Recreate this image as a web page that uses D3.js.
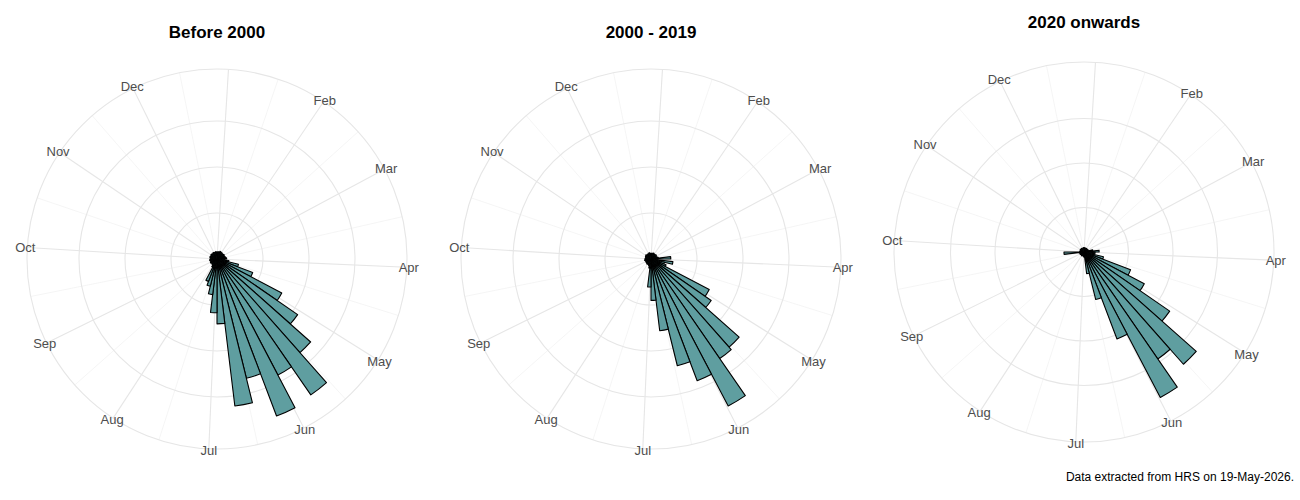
<!DOCTYPE html>
<html><head><meta charset="utf-8">
<script src="https://cdn.jsdelivr.net/npm/d3@7"></script>
<style>body{margin:0;background:#fff;font-family:"Liberation Sans",Arial,sans-serif}</style>
</head><body><svg id="c" width="1300" height="500"></svg>
<script>
const months = ["Jan","Feb","Mar","Apr","May","Jun","Jul","Aug","Sep","Oct","Nov","Dec"];
const monthStartDay = [0,31,59,90,120,151,181,212,243,273,304,334];
const panelTitles = ["Before 2000","2000 - 2019","2020 onwards"];
const weeks = d3.range(1,53);
// weekly counts (week 1..52)
const valuesBefore2000 = [1.5,1.6,1.4,1.8,1.5,1.7,1.6,1.5,1.8,1.6,1.7,1.9,2.1,1.7,2.6,4.8,8.3,15.9,21.3,27.2,35.9,28.5,36.5,26.7,32.2,14.1,11.7,7.8,6.1,5.2,2.0,1.6,1.5,1.4,1.6,1.5,1.3,1.6,1.5,1.4,1.5,1.6,1.4,1.5,1.6,1.5,1.4,1.6,1.5,1.4,1.6,1.5];
const values2000to2019 = [1.2,1.3,1.1,1.4,1.2,1.3,1.2,1.4,1.3,1.2,1.4,1.6,4.3,1.5,4.8,3.0,3.5,14.3,15.9,25.6,26.3,36.1,28.3,23.9,15.7,9.0,6.1,2.0,1.5,1.3,1.2,1.4,1.2,1.3,1.1,1.2,1.3,1.4,1.2,1.3,1.1,1.2,1.3,1.2,1.4,1.1,1.2,1.3,1.2,1.4,1.3,1.2];
const values2020on = [0.8,1.0,0,0.9,0.7,1.0,0,0.8,1.0,0.9,1.1,2.0,3.4,2.5,2.2,4.5,11.2,15.3,23.4,33.7,29.2,36.9,20.9,11.0,4.9,1.2,1.0,0.8,0,0.9,1.0,0,0.8,0.9,1.0,0,0.8,1.1,4.5,1.0,0.8,0,0.9,1.0,0.8,0,1.0,0.9,0,0.8,1.0,0.9];
const allValues = [valuesBefore2000, values2000to2019, values2020on];
const ringBreaks = [10,20,30];

const panels = [
  {cx:217, cy:259, outer:190, ringPx:46, titleY:38},
  {cx:651, cy:259, outer:190, ringPx:46, titleY:38},
  {cx:1084, cy:252, outer:190, ringPx:44.5, titleY:28}
];
const svg = d3.select("#c");
const ang = d3.scaleLinear().domain([0,52]).range([0,2*Math.PI]);
const dayToWeek = d => d/7 + 0.5;

panels.forEach((p,i)=>{
  const g = svg.append("g").attr("transform",`translate(${p.cx},${p.cy})`);
  const r = d3.scaleLinear().domain([0, p.outer/p.ringPx*10]).range([0,p.outer]);
  // minor radial grid
  const majors = monthStartDay.map(dayToWeek);
  const minors = majors.map((m,k)=>{const n = k<11?majors[k+1]:majors[0]+52; return (m+n)/2;});
  minors.forEach(w=>{const a=ang(w);g.append("line").attr("x1",0).attr("y1",0)
    .attr("x2",p.outer*Math.sin(a)).attr("y2",-p.outer*Math.cos(a)).attr("stroke","#f2f2f2").attr("stroke-width",0.8);});
  majors.forEach(w=>{const a=ang(w);g.append("line").attr("x1",0).attr("y1",0)
    .attr("x2",p.outer*Math.sin(a)).attr("y2",-p.outer*Math.cos(a)).attr("stroke","#e6e6e6").attr("stroke-width",1.1);});
  ringBreaks.forEach(b=>g.append("circle").attr("r",r(b)).attr("fill","none").attr("stroke","#e6e6e6").attr("stroke-width",1.1));
  g.append("circle").attr("r",p.outer).attr("fill","none").attr("stroke","#e6e6e6").attr("stroke-width",1.1);
  // bars
  const arc = d3.arc().innerRadius(0);
  g.selectAll("path.bar").data(weeks.map((w,k)=>({w,v:allValues[i][k]})).filter(d=>d.v>0))
    .enter().append("path").attr("class","bar")
    .attr("d",d=>arc({outerRadius:r(d.v),startAngle:ang(d.w-1),endAngle:ang(d.w)}))
    .attr("fill","#5f9ea0").attr("stroke","#000").attr("stroke-width",1.1).attr("stroke-linejoin","round");
  // month labels (Jan not shown)
  months.forEach((m,k)=>{ if(k===0) return;
    const a=ang(majors[k]); const lr=p.outer+2;
    g.append("text").attr("x",lr*Math.sin(a)).attr("y",-lr*Math.cos(a)).attr("dy","0.35em")
      .attr("text-anchor","middle").attr("font-size",13).attr("fill","#4d4d4d").text(m);});
  svg.append("text").attr("x",p.cx).attr("y",p.titleY).attr("text-anchor","middle")
    .attr("font-size",17).attr("font-weight","bold").attr("fill","#000").text(panelTitles[i]);
});
svg.append("text").attr("x",1294).attr("y",481).attr("text-anchor","end").attr("font-size",12)
  .attr("fill","#000").text("Data extracted from HRS on 19-May-2026.");
</script></body></html>
